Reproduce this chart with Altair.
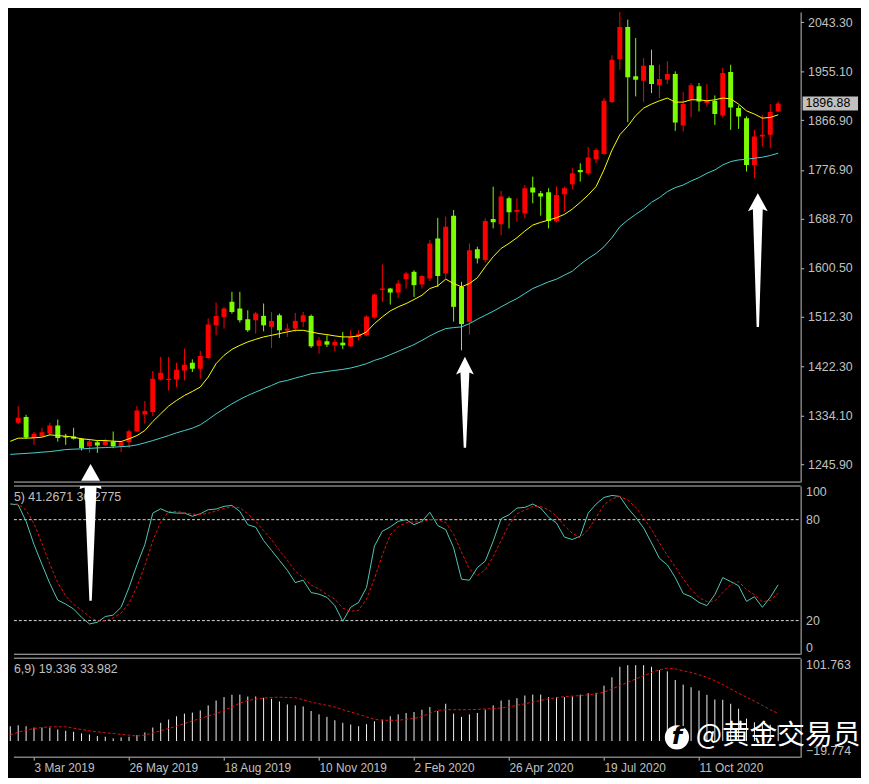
import altair as alt
import pandas as pd

# ---------------- data (weekly XAUUSD) ----------------
dates = [d.strftime("%Y-%m-%d") for d in pd.date_range("2019-02-10", periods=98, freq="7D")]

opens = [1314.1, 1321.3, 1331.6, 1293.7, 1297.2, 1301.4, 1316.4, 1297.2, 1296.5, 1292.4,
         1279.2, 1286.4, 1281.5, 1287.5, 1279.2, 1286.4, 1305.6, 1336.3, 1340.6, 1399.5,
         1398.4, 1399.5, 1415.8, 1429.7, 1418.8, 1438.2, 1497.0, 1512.2, 1539.3, 1527.2,
         1507.9, 1506.1, 1514.0, 1494.2, 1515.1, 1487.5, 1491.1, 1503.2, 1514.0, 1459.8,
         1468.2, 1460.9, 1465.8, 1459.1, 1476.6, 1479.0, 1511.0, 1560.6, 1563.3, 1556.1,
         1580.2, 1593.5, 1570.6, 1581.4, 1653.7, 1590.4, 1694.7, 1566.4, 1503.2, 1634.3,
         1614.5, 1688.5, 1679.0, 1725.9, 1701.9, 1698.8, 1745.2, 1734.9, 1736.8, 1684.9,
         1733.1, 1751.2, 1777.0, 1771.1, 1796.4, 1805.9, 1899.3, 1977.0, 2034.8, 1945.8,
         1937.8, 1965.6, 1929.5, 1939.6, 1949.9, 1857.2, 1903.5, 1927.7, 1897.5, 1901.7,
         1875.3, 1953.5, 1888.5, 1870.4, 1786.1, 1837.4, 1840.3, 1882.5]
highs = [1327.2, 1351.4, 1335.7, 1305.0, 1312.3, 1321.3, 1327.2, 1301.4, 1312.3, 1293.7,
         1292.4, 1289.3, 1292.4, 1305.6, 1287.0, 1309.2, 1351.4, 1360.5, 1414.7, 1440.0,
         1440.0, 1429.7, 1455.0, 1435.6, 1450.8, 1509.2, 1538.1, 1530.3, 1557.4, 1557.4,
         1524.2, 1521.2, 1536.3, 1521.2, 1518.2, 1500.1, 1519.4, 1521.2, 1516.4, 1476.1,
         1479.0, 1471.8, 1485.1, 1488.0, 1488.0, 1515.1, 1554.3, 1606.7, 1564.6, 1578.3,
         1593.5, 1596.4, 1587.4, 1650.6, 1690.7, 1692.9, 1704.8, 1575.4, 1644.6, 1638.7,
         1689.8, 1747.1, 1739.1, 1729.0, 1725.9, 1749.9, 1765.1, 1739.1, 1744.0, 1747.1,
         1747.1, 1780.1, 1789.1, 1818.1, 1816.2, 1906.6, 1983.7, 2072.5, 2048.0, 2014.9,
         1978.8, 1993.8, 1966.7, 1972.9, 1954.8, 1917.4, 1933.7, 1933.7, 1931.9, 1911.4,
         1960.8, 1966.7, 1893.4, 1873.5, 1849.3, 1876.4, 1895.7, 1900.6]
lows = [1301.4, 1319.0, 1292.4, 1281.5, 1295.4, 1298.3, 1287.5, 1281.5, 1291.1, 1271.3,
        1267.1, 1267.1, 1279.2, 1275.5, 1268.4, 1275.5, 1304.5, 1319.5, 1333.4, 1397.7,
        1379.6, 1385.8, 1397.7, 1412.9, 1400.8, 1436.9, 1479.0, 1491.1, 1518.2, 1501.9,
        1485.1, 1482.1, 1486.2, 1456.2, 1474.3, 1476.1, 1485.1, 1494.2, 1456.2, 1445.9,
        1458.0, 1450.8, 1454.4, 1458.0, 1469.9, 1477.9, 1509.2, 1539.3, 1534.4, 1546.6,
        1563.3, 1548.3, 1563.3, 1576.5, 1566.4, 1581.4, 1503.7, 1451.9, 1480.2, 1608.5,
        1610.3, 1671.7, 1659.6, 1671.7, 1683.8, 1689.8, 1716.9, 1694.7, 1671.7, 1682.6,
        1701.9, 1742.7, 1756.1, 1768.0, 1789.1, 1804.2, 1897.5, 1957.7, 1863.2, 1909.6,
        1899.3, 1915.6, 1906.6, 1931.9, 1847.5, 1846.4, 1871.7, 1882.5, 1891.6, 1858.3,
        1871.7, 1849.3, 1851.1, 1774.1, 1762.0, 1819.3, 1816.2, 1881.3]
closes = [1323.6, 1330.3, 1294.7, 1301.4, 1304.5, 1316.4, 1293.7, 1294.7, 1292.4, 1276.1,
          1287.5, 1280.3, 1288.2, 1279.2, 1286.4, 1306.3, 1343.5, 1342.4, 1400.8, 1411.6,
          1400.8, 1417.0, 1426.1, 1418.8, 1441.8, 1498.3, 1514.0, 1527.2, 1521.2, 1506.1,
          1488.0, 1518.2, 1497.0, 1505.0, 1488.0, 1491.1, 1505.0, 1515.1, 1459.1, 1469.9,
          1462.2, 1467.1, 1460.9, 1476.1, 1481.5, 1512.8, 1552.5, 1563.3, 1556.1, 1572.4,
          1590.4, 1569.3, 1585.9, 1644.6, 1585.9, 1674.8, 1530.3, 1499.2, 1632.5, 1617.5,
          1684.9, 1682.6, 1729.0, 1700.6, 1704.8, 1744.0, 1736.2, 1729.0, 1684.9, 1731.9,
          1744.0, 1771.1, 1772.9, 1799.4, 1813.2, 1901.7, 1975.7, 2034.8, 1944.0, 1939.6,
          1964.9, 1931.9, 1940.9, 1949.9, 1862.7, 1895.7, 1929.5, 1900.6, 1901.7, 1877.7,
          1951.7, 1889.8, 1873.5, 1786.1, 1837.4, 1840.3, 1881.3, 1896.88]

ma_fast = [1288.0, 1293.6, 1293.6, 1294.2, 1295.4, 1299.6, 1298.3, 1297.2, 1295.4, 1292.4,
           1291.1, 1289.3, 1289.3, 1288.2, 1287.5, 1292.4, 1298.3, 1307.4, 1323.6, 1337.5,
           1351.4, 1361.6, 1370.6, 1377.8, 1385.8, 1403.8, 1427.9, 1442.9, 1453.7, 1460.9,
           1467.1, 1471.8, 1476.1, 1479.0, 1482.1, 1485.1, 1488.0, 1488.0, 1485.1, 1482.1,
           1480.3, 1477.9, 1476.1, 1476.1, 1477.9, 1485.1, 1500.1, 1512.2, 1523.1, 1530.3,
           1536.2, 1543.5, 1551.2, 1563.3, 1568.2, 1580.2, 1572.4, 1566.4, 1572.4, 1582.7,
           1602.5, 1620.6, 1635.6, 1644.6, 1654.9, 1666.9, 1677.7, 1682.6, 1686.7, 1691.0,
           1697.0, 1706.6, 1718.7, 1731.9, 1747.1, 1777.4, 1812.6, 1840.6, 1856.0, 1874.9,
           1888.5, 1895.7, 1901.7, 1906.6, 1899.3, 1899.3, 1903.5, 1903.5, 1901.7, 1903.5,
           1906.6, 1905.3, 1895.7, 1883.6, 1877.7, 1870.4, 1871.7, 1876.4]
ma_slow = [1264.4, 1265.3, 1266.2, 1267.1, 1268.4, 1269.4, 1271.2, 1273.1, 1273.8, 1274.3,
           1275.2, 1276.1, 1276.7, 1277.4, 1278.3, 1279.2, 1281.5, 1285.2, 1289.3, 1293.7,
           1298.3, 1303.2, 1307.4, 1311.6, 1317.7, 1327.2, 1337.5, 1346.6, 1355.6, 1363.4,
           1370.6, 1376.7, 1382.7, 1388.6, 1394.8, 1397.7, 1402.0, 1405.6, 1409.8, 1411.6,
           1413.9, 1415.8, 1417.6, 1420.1, 1423.7, 1427.9, 1433.8, 1438.2, 1444.1, 1450.1,
           1456.2, 1462.2, 1469.9, 1477.9, 1485.1, 1491.1, 1492.9, 1494.2, 1500.1, 1507.9,
           1515.1, 1522.3, 1530.3, 1538.1, 1545.3, 1554.3, 1563.3, 1569.3, 1575.4, 1580.2,
           1587.4, 1594.6, 1606.7, 1617.5, 1626.6, 1638.7, 1654.9, 1674.8, 1686.7, 1697.0,
           1706.6, 1718.7, 1727.2, 1738.0, 1745.2, 1749.9, 1757.2, 1763.3, 1771.1, 1777.0,
           1786.1, 1792.1, 1795.1, 1796.3, 1798.2, 1800.0, 1803.1, 1807.2]

stoch_main = [89.3, 88.8, 79.0, 65.2, 53.4, 42.0, 32.2, 29.8, 26.9, 22.0,
              18.0, 19.0, 22.4, 23.3, 27.9, 39.7, 53.1, 65.2, 83.9, 86.5,
              84.4, 83.9, 83.9, 82.0, 83.5, 85.9, 86.3, 87.9, 88.5, 84.9,
              77.0, 75.5, 67.6, 61.7, 55.8, 49.9, 42.6, 44.0, 36.7, 35.7,
              33.8, 28.9, 19.6, 27.9, 30.8, 39.7, 64.3, 73.1, 75.7, 79.0,
              80.0, 77.0, 79.0, 84.4, 76.5, 74.1, 63.3, 44.6, 44.0, 51.5,
              55.4, 67.2, 80.6, 82.9, 86.9, 87.3, 89.3, 86.9, 81.4, 78.0,
              69.6, 68.2, 70.2, 83.9, 89.3, 93.2, 94.4, 93.8, 86.9, 81.4,
              75.1, 66.2, 57.0, 53.1, 45.6, 36.1, 34.2, 30.8, 28.9, 35.4,
              45.6, 43.2, 40.7, 31.4, 34.2, 27.9, 33.8, 41.3]
stoch_signal = [89.5, 89.2, 85.7, 77.7, 65.9, 53.5, 42.5, 34.7, 29.6, 26.2,
                22.3, 19.7, 19.8, 21.6, 24.5, 30.3, 40.2, 52.7, 67.4, 78.5,
                84.9, 84.9, 84.1, 83.3, 83.1, 83.8, 85.2, 86.7, 87.6, 87.1,
                83.5, 79.1, 73.4, 68.3, 61.7, 55.8, 49.4, 45.5, 41.1, 38.8,
                35.4, 32.8, 27.4, 25.5, 26.1, 32.8, 44.9, 59.0, 71.0, 75.9,
                78.2, 78.7, 78.7, 80.1, 80.0, 78.3, 71.3, 60.7, 50.6, 46.7,
                50.3, 58.0, 67.7, 76.9, 83.5, 85.7, 87.8, 87.8, 85.9, 82.1,
                76.3, 71.9, 69.3, 74.1, 81.1, 88.8, 92.3, 93.8, 91.7, 87.4,
                81.1, 74.2, 66.1, 58.8, 51.9, 44.9, 38.6, 33.7, 31.3, 31.7,
                36.6, 41.4, 43.2, 38.4, 35.4, 31.2, 32.0, 36.3]

macd_hist = [18.2, 19.4, 18.2, 16.6, 16.6, 16.6, 14.2, 12.6, 11.4, 9.4,
             8.1, 6.1, 5.3, 3.3, 4.5, 5.3, 7.3, 10.6, 16.6, 22.4,
             26.4, 30.4, 33.7, 34.9, 37.7, 43.8, 49.8, 54.0, 56.8, 57.1,
             54.7, 54.7, 53.1, 51.9, 48.6, 45.0, 43.8, 42.5, 36.9, 32.8,
             29.7, 25.5, 22.4, 20.3, 18.2, 20.7, 24.3, 26.4, 30.4, 32.8,
             34.5, 35.7, 38.5, 41.8, 36.9, 45.8, 33.7, 29.7, 32.8, 34.5,
             38.5, 43.8, 49.8, 50.7, 52.7, 55.9, 57.1, 57.1, 54.0, 54.0,
             54.0, 54.7, 57.1, 58.8, 59.2, 68.1, 78.3, 91.2, 93.2, 93.2,
             93.2, 91.2, 87.1, 85.6, 75.0, 69.3, 66.1, 62.0, 56.8, 51.0,
             50.7, 45.8, 39.7, 27.6, 23.0, 21.0, 20.0, 19.3]
macd_signal = [7.3, 10.9, 13.4, 15.4, 16.6, 17.5, 17.5, 17.5, 15.8, 14.2,
               12.6, 11.4, 10.2, 9.4, 8.1, 7.3, 6.1, 7.3, 10.2, 12.6,
               15.4, 18.2, 21.5, 24.7, 27.6, 30.8, 33.7, 37.7, 41.8, 46.6,
               49.8, 51.5, 52.7, 53.5, 53.9, 53.5, 53.1, 50.7, 47.9, 45.8,
               43.8, 41.8, 38.5, 35.7, 32.8, 29.7, 26.7, 25.5, 25.5, 25.5,
               26.7, 27.6, 30.4, 33.7, 37.7, 38.5, 38.5, 38.5, 38.5, 38.9,
               39.4, 39.7, 40.6, 41.8, 43.8, 45.8, 47.9, 49.8, 51.9, 53.1,
               54.7, 55.2, 55.9, 56.8, 58.0, 60.0, 64.0, 68.1, 72.2, 76.2,
               80.2, 84.3, 87.5, 89.6, 88.7, 86.3, 84.3, 81.4, 78.3, 74.1,
               69.3, 64.0, 58.8, 53.9, 49.1, 43.8, 38.5, 34.0]

price_ticks = [2043.3, 1955.1, 1866.9, 1776.9, 1688.7, 1600.5, 1512.3, 1422.3, 1334.1, 1245.9]
stoch_ticks = [0, 20, 80, 100]
stoch_levels = [80, 20]
macd_ticks = [-19.774, 101.763]
date_ticks = ["2019-03-03", "2019-05-26", "2019-08-18", "2019-11-10",
              "2020-02-02", "2020-04-26", "2020-07-19", "2020-10-11"]
last_price = 1896.88
stoch_title = "5) 41.2671 36.2775"
macd_title = "6,9) 19.336 33.982"
watermark = "@黄金交易员"

arrow_dates = ["2019-04-22", "2020-03-18", "2020-12-02"]
arrow1_head_price = 1247.2
arrow1_shaft_stoch = 100
arrow_tips = [1247.2, 1440.5, 1734.9]

# ---------------- styling ----------------
FONT = "Liberation Sans"
SILVER = "#c0c0c0"
RED = "#ff0000"
GREEN = "#7cfc00"
W, H1, H2, H3 = 795, 475, 170, 100
P_LO, P_HI = 1214.5, 2061.7

df = pd.DataFrame({
    "date": dates, "open": opens, "high": highs, "low": lows, "close": closes,
    "ma_fast": ma_fast, "ma_slow": ma_slow,
    "stoch_main": stoch_main, "stoch_signal": stoch_signal,
    "macd_hist": macd_hist, "macd_signal": macd_signal,
})
df["dir"] = ["up" if c >= o else "down" for o, c in zip(opens, closes)]

base = pd.Timestamp("2019-02-10", tz="UTC")
def to_ms(ts):
    return int(ts.value // 10**6)
x_domain = [to_ms(base + pd.Timedelta(days=3.2375)), to_ms(base + pd.Timedelta(days=698.8625))]
xscale = alt.Scale(type="utc", domain=x_domain, padding=0)
xenc = alt.X("date:T", scale=xscale, axis=None)
tick_ms = [to_ms(pd.Timestamp(d, tz="UTC")) for d in date_ticks]

one = pd.DataFrame({"k": [0]})

def hrule(y, color=SILVER):
    return alt.Chart(one).mark_rule(color=color, strokeWidth=1).encode(
        x=alt.value(0), x2=alt.value(W), y=alt.value(y))

AX = dict(title=None, grid=False, labelColor=SILVER, labelFont=FONT, domain=True,
          domainColor=SILVER, tickColor=SILVER, labels=True)

def arrow(df_, path, yenc):
    return alt.Chart(df_).mark_point(
        shape=path, size=4, filled=True, color="#ffffff", opacity=1, strokeWidth=0
    ).encode(x=xenc, y=yenc)

# ---------------- price pane ----------------
yprice = alt.Scale(domain=[P_LO, P_HI], nice=False, zero=False, padding=0)
price_axis = alt.Axis(orient="right", values=price_ticks, format=".2f", tickSize=3,
                      labelPadding=4, labelFontSize=12.5, **AX)
color_enc = alt.Color("dir:N", scale=alt.Scale(domain=["up", "down"], range=[RED, GREEN]), legend=None)

def py(field):
    return alt.Y(field, scale=yprice, axis=price_axis)

wicks = alt.Chart(df).mark_rule(strokeWidth=1, clip=True).encode(
    x=xenc, y=py("low:Q"), y2="high:Q", color=color_enc)
bodies = alt.Chart(df).mark_rule(strokeWidth=5, strokeCap="butt", clip=True).encode(
    x=xenc, y=py("open:Q"), y2="close:Q", color=color_enc)
ma_slow_line = alt.Chart(df).mark_line(color="#48d1cc", strokeWidth=1).encode(
    x=xenc, y=py("ma_slow:Q"))
ma_fast_line = alt.Chart(df).mark_line(color="#ffff00", strokeWidth=1).encode(
    x=xenc, y=py("ma_fast:Q"))

box_df = pd.DataFrame({"price": [last_price], "label": [f"{last_price:.2f}"]})
price_box = alt.Chart(box_df).mark_point(
    shape="M0,-7L56,-7L56,7L0,7Z", size=4, filled=True, color=SILVER, opacity=1, strokeWidth=0
).encode(x=alt.value(W + 2), y=py("price:Q"))
price_text = alt.Chart(box_df).mark_text(
    align="left", baseline="middle", color="#000000", font=FONT, fontSize=12.5
).encode(x=alt.value(W + 5), y=py("price:Q"), text="label:N")

adf = pd.DataFrame({"date": arrow_dates, "tip": arrow_tips})
a1_head = arrow(pd.DataFrame({"date": [arrow_dates[0]], "tip": [arrow1_head_price]}),
                "M0,0L9.5,17L-9.5,17Z", py("tip:Q"))
arrow2 = arrow(adf.iloc[[1]], "M0,0L9,18L4.5,16L1.2,92L-1.2,92L-4.5,16L-9,18Z", py("tip:Q"))
arrow3 = arrow(adf.iloc[[2]], "M0,0L10,18L5,16L1.2,135L-1.2,135L-5,16L-10,18Z", py("tip:Q"))

price = alt.layer(wicks, bodies, ma_slow_line, ma_fast_line, hrule(H1),
                  price_box, price_text, a1_head, arrow2, arrow3
                  ).properties(width=W, height=H1)

# ---------------- stochastic pane ----------------
ystoch = alt.Scale(domain=[0, 100], nice=False, zero=False, padding=0)
stoch_axis = alt.Axis(orient="right", values=stoch_ticks, tickSize=0, labelPadding=5,
                      labelFlush=True, labelFontSize=12.5, **AX)

def sy(field):
    return alt.Y(field, scale=ystoch, axis=stoch_axis)

lv = alt.Chart(pd.DataFrame({"level": stoch_levels})).mark_rule(
    color="#d8d8d8", strokeDash=[3, 2], strokeWidth=1
).encode(y=sy("level:Q"), x=alt.value(0), x2=alt.value(W))
s_main = alt.Chart(df).mark_line(color="#50c8b4", strokeWidth=1).encode(x=xenc, y=sy("stoch_main:Q"))
s_sig = alt.Chart(df).mark_line(color="#e01010", strokeWidth=1, strokeDash=[3, 2]).encode(
    x=xenc, y=sy("stoch_signal:Q"))
s_title = alt.Chart(pd.DataFrame({"t": [stoch_title]})).mark_text(
    align="left", baseline="middle", color=SILVER, font=FONT, fontSize=12.5
).encode(x=alt.value(0), y=alt.value(11), text="t:N")
a1_shaft = arrow(pd.DataFrame({"date": [arrow_dates[0]], "tip": [arrow1_shaft_stoch]}),
                 "M-10.5,0L10.5,0L11,3L6,1.5L1.2,116L-1.2,116L-6,1.5L-11,3Z", sy("tip:Q"))

stoch = alt.layer(lv, s_main, s_sig, hrule(0), hrule(H2), s_title, a1_shaft).properties(width=W, height=H2)

# ---------------- MACD pane ----------------
ymacd = alt.Scale(domain=[-19.774, 101.763], nice=False, zero=False, padding=0)
macd_axis = alt.Axis(orient="right", values=macd_ticks, format=".3f", tickSize=0, labelPadding=5,
                     labelFlush=True, labelFontSize=12.5, **AX)

def my(field):
    return alt.Y(field, scale=ymacd, axis=macd_axis)

x_axis = alt.X("date:T", scale=xscale, axis=alt.Axis(
    orient="bottom", values=tick_ms, format="%-d %b %Y", labelAlign="left", labelBaseline="top",
    tickSize=3, labelPadding=3, domain=False, title=None, grid=False, labels=True,
    labelColor=SILVER, labelFont=FONT, tickColor=SILVER,
    labelFontSize=12, labelFlush=False, labelOverlap=False))
hist = alt.Chart(df).mark_rule(color="#f2f2f2", strokeWidth=1).encode(
    x=x_axis, y=my("macd_hist:Q"), y2=alt.datum(0))
m_sig = alt.Chart(df).mark_line(color="#e01010", strokeWidth=1, strokeDash=[3, 2]).encode(
    x=x_axis, y=my("macd_signal:Q"))
m_title = alt.Chart(pd.DataFrame({"t": [macd_title]})).mark_text(
    align="left", baseline="middle", color=SILVER, font=FONT, fontSize=12.5
).encode(x=alt.value(0), y=alt.value(11), text="t:N")
logo = alt.Chart(one).mark_point(shape="circle", size=600, filled=True, color="#ffffff", opacity=1).encode(
    x=alt.value(670), y=alt.value(80))
logo_f = alt.Chart(pd.DataFrame({"t": ["f"]})).mark_text(
    align="center", baseline="middle", color="#000000", font="DejaVu Sans", fontSize=24,
    fontWeight="bold", fontStyle="italic"
).encode(x=alt.value(670), y=alt.value(80), text="t:N")
wm = alt.Chart(pd.DataFrame({"t": [watermark]})).mark_text(
    align="left", baseline="middle", color="#ffffff", font="Noto Sans CJK SC", fontSize=28
).encode(x=alt.value(689), y=alt.value(79), text="t:N")

macd = alt.layer(hist, m_sig, hrule(0), hrule(H3), m_title, logo, logo_f, wm).properties(width=W, height=H3)

chart = alt.vconcat(price, stoch, macd, spacing=2).properties(
    padding=0, background="#000000"
).configure_view(strokeWidth=0)

chart.save("out.html", embed_options={"renderer": "svg", "actions": False})
